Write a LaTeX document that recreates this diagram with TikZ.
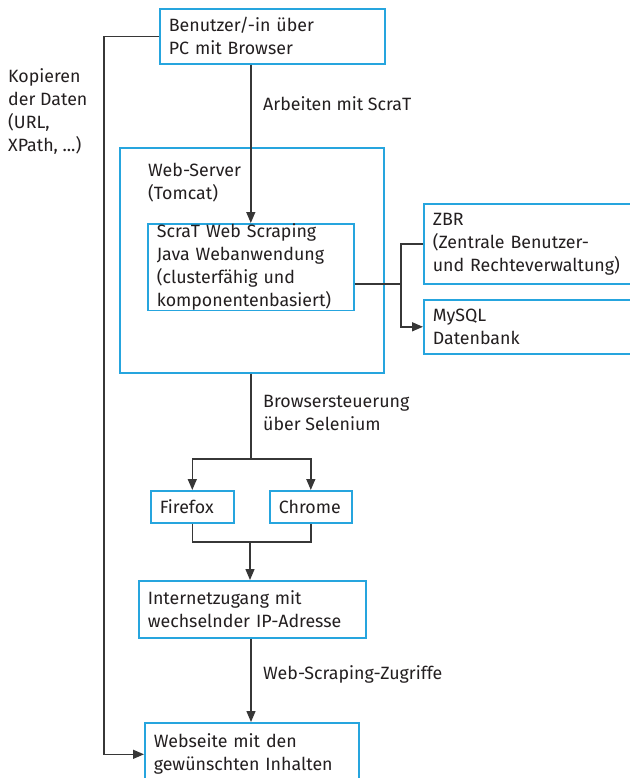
\documentclass[tikz,border=0pt]{standalone}
\usepackage{fontspec}
\setmainfont{Fira Sans}
\usetikzlibrary{arrows.meta}
\definecolor{boxblue}{RGB}{38,165,222}
\definecolor{linegray}{RGB}{55,55,55}
\definecolor{txt}{RGB}{35,31,32}
\begin{document}
\begin{tikzpicture}[x=1pt,y=-1pt,
  font=\fontsize{17.8}{23}\selectfont,
  every node/.style={text=txt},
  box/.style={draw=boxblue,line width=1.6pt,fill=white,align=left,inner xsep=9pt,inner ysep=0pt,anchor=north west},
  lbl/.style={align=left,anchor=west,inner sep=0pt},
  conn/.style={draw=linegray,line width=1.4pt},
  arr/.style={conn,-{Triangle[length=11pt,width=9pt]}}]
\useasboundingbox (0,0) rectangle (629,778);
% boxes
\node[box,minimum width=225pt,minimum height=55pt,text width=207pt] (top) at (159,8) {Benutzer/-in über\\PC mit Browser};
\node[box,minimum width=264pt,minimum height=225pt] (ws) at (119,147) {};
\node[lbl] (wst) at (148,183) {Web-Server\\(Tomcat)};
\node[box,minimum width=206pt,minimum height=77pt,text width=188pt] (inner) at (147,223) {ScraT Web Scraping\\Java Webanwendung\\(clusterfähig und\\komponentenbasiert)};
\node[box,minimum width=215pt,minimum height=80pt,text width=197pt] (zbr) at (423,203) {ZBR\\(Zentrale Benutzer-\\und Rechteverwaltung)};
\node[box,minimum width=215pt,minimum height=54pt,text width=197pt] (mysql) at (423,299) {MySQL\\Datenbank};
\node[box,minimum width=83pt,minimum height=32pt,text width=65pt] (ff) at (150,490) {Firefox};
\node[box,minimum width=82pt,minimum height=32pt,text width=64pt] (ch) at (269,490) {Chrome};
\node[box,minimum width=227pt,minimum height=57pt,text width=209pt] (inet) at (138,580) {Internetzugang mit\\wechselnder IP-Adresse};
\node[box,minimum width=214pt,minimum height=63pt,text width=196pt] (web) at (144,722) {Webseite mit den\\gewünschten Inhalten};
% labels
\node[lbl] (l1) at (263,104) {Arbeiten mit ScraT};
\node[lbl] (l2) at (263,413) {Browsersteuerung\\über Selenium};
\node[lbl] (l3) at (263,674) {Web-Scraping-Zugriffe};
\node[lbl] (l4) at (8,112) {Kopieren\\der Daten\\(URL,\\XPath, {.}{.}{.})};
% connectors
\draw[arr] (top.south -| inner.north) -- (inner.north);
\draw[arr] (top.west) -- ++(-55,0) |- (web.west);
\coordinate (j) at (401,284);
\draw[conn] (inner.east |- j) -- (j);
\draw[conn] (j) |- (zbr.west);
\draw[arr] (j) |- (mysql.west);
\coordinate (b) at (251,459);
\draw[conn] (ws.south -| b) -- (b);
\draw[arr] (b) -| (ff.north);
\draw[arr] (b) -| (ch.north);
\coordinate (m) at (250,542);
\draw[conn] (ff.south) |- (m) -| (ch.south);
\draw[arr] (m) -- (inet.north -| m);
\draw[arr] (inet.south -| 251,0) -- (web.north -| 251,0);
\end{tikzpicture}
\end{document}
